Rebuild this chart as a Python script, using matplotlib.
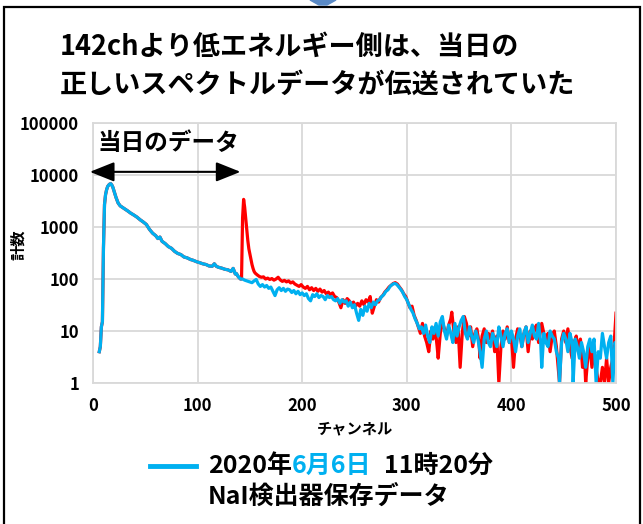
import matplotlib
matplotlib.use("Agg")
import matplotlib.pyplot as plt
from matplotlib.patches import Rectangle, Polygon
from matplotlib.lines import Line2D

plt.rcParams['font.family'] = ['Noto Sans CJK JP', 'DejaVu Sans']

# shared part below 142ch (red lies under the blue line here)
low_ch = [6, 7, 8, 9, 10, 11, 12, 13, 14, 15, 16, 17, 18, 19, 20, 21, 22, 24, 26, 28,
          30, 33, 36, 39, 42, 45, 48, 51, 54, 57, 60, 62, 64, 66, 69, 72, 75, 78, 81, 84,
          87, 90, 93, 96, 99, 102, 105, 108, 111, 114, 116, 118, 120, 123, 126, 129, 132, 134,
          136, 137, 139, 141, 142]
low_cnt = [4, 5, 12, 15, 400, 2700, 4200, 5200, 6000, 6400, 6700, 6800, 6400, 5800, 5000, 4300,
           3700, 2900, 2550, 2400, 2250, 2050, 1850, 1700, 1550, 1380, 1250, 1120, 900, 760,
           680, 600, 640, 530, 480, 420, 390, 340, 310, 295, 265, 255, 238, 228, 215, 206,
           196, 190, 178, 176, 196, 175, 168, 162, 154, 150, 140, 160, 125, 128, 110, 100, 100]

# blue: 2020/6/6 11:20 stored data
blue_ch = [143, 145, 147, 150, 152, 154, 156, 158, 160, 162, 164, 166, 168, 170, 172, 174,
           176, 178, 180, 182, 184, 186, 188, 190, 192, 194, 196, 198, 200, 202, 204, 206,
           208, 210, 212, 214, 216, 218, 220, 222, 224, 226, 228, 230, 232, 234, 236, 238,
           240, 242, 244, 246, 248, 250, 252, 254, 256, 258, 260, 262, 264, 266, 268, 270,
           272, 274, 276, 278, 280, 282, 284, 286, 288, 290, 292, 294, 296, 298, 300, 302,
           304, 306, 308, 310, 312, 314, 316, 318, 320, 322, 324, 326, 328, 330, 332, 334,
           336, 338, 340, 342, 344, 346, 348, 350, 352, 354, 356, 358, 360, 362, 364, 366,
           368, 370, 372, 374, 376, 378, 380, 382, 384, 386, 388, 390, 392, 394, 396, 398,
           400, 402, 404, 406, 408, 410, 412, 414, 416, 418, 420, 422, 424, 426, 428, 429,
           431, 433, 435, 437, 439, 441, 443, 445, 446, 448, 450, 452, 454, 456, 458, 459,
           461, 463, 465, 467, 469, 471, 473, 475, 477, 479, 481, 483, 485, 487, 489, 491,
           493, 495, 497, 499, 500]
blue_cnt = [100, 95, 92, 88, 85, 92, 98, 80, 72, 78, 70, 75, 66, 70, 58, 48,
            62, 68, 60, 66, 58, 64, 62, 55, 60, 52, 58, 50, 54, 48, 52, 42,
            38, 50, 46, 52, 44, 48, 46, 40, 48, 44, 46, 40, 38, 42, 34, 40,
            36, 38, 30, 36, 28, 32, 22, 16, 26, 20, 30, 24, 34, 28, 36, 32,
            38, 40, 46, 50, 58, 62, 72, 78, 82, 80, 72, 64, 56, 46, 40, 32,
            26, 22, 17, 14, 11, 12, 9, 13, 8, 6, 12, 9, 14, 8, 15, 19,
            10, 7, 13, 9, 6, 14, 8, 12, 16, 19, 9, 7, 12, 8, 6, 10,
            7, 4, 2, 7, 10, 6, 5, 9, 7, 5, 12, 8, 5, 9, 11, 6,
            10, 7, 4, 8, 11, 5, 9, 12, 6, 9, 13, 8, 7, 14, 6, 2,
            9, 6, 5, 10, 8, 7, 4, 3, 1, 6, 9, 7, 4, 9, 6, 1,
            7, 5, 3, 6, 4, 2, 5, 7, 4, 7, 1, 4, 3, 9, 5, 3,
            6, 8, 1, 6, 5]

# red: data transmitted on the day
red_ch = [143, 144, 145, 146, 147, 148, 149, 150, 151, 152, 153, 154, 155, 157, 159, 161,
          163, 165, 167, 169, 171, 173, 175, 177, 179, 181, 183, 185, 187, 189, 191, 193,
          195, 197, 199, 201, 203, 205, 207, 209, 211, 213, 215, 217, 219, 221, 223, 225,
          227, 229, 231, 233, 235, 237, 239, 241, 243, 245, 247, 249, 251, 253, 255, 257,
          259, 261, 263, 265, 267, 269, 271, 273, 275, 277, 279, 281, 283, 285, 287, 289,
          291, 293, 295, 297, 299, 301, 303, 305, 307, 309, 311, 313, 315, 317, 319, 321,
          323, 325, 327, 329, 330, 332, 334, 336, 338, 340, 342, 343, 345, 347, 349, 351,
          353, 355, 357, 359, 361, 363, 365, 367, 369, 370, 372, 374, 376, 378, 380, 382,
          384, 386, 388, 390, 392, 394, 396, 398, 400, 402, 404, 406, 408, 410, 412, 414,
          416, 418, 420, 422, 424, 426, 429, 431, 433, 435, 437, 439, 441, 443, 446, 448,
          450, 452, 454, 456, 458, 460, 462, 464, 466, 468, 470, 471, 473, 475, 477, 479,
          481, 483, 485, 487, 489, 491, 493, 495, 497, 498, 499, 500]
red_cnt = [1500, 3400, 2400, 1500, 900, 550, 380, 300, 240, 190, 160, 140, 130, 120, 112, 108,
           110, 100, 104, 98, 102, 95, 100, 108, 96, 90, 94, 88, 92, 84, 88, 80,
           76, 72, 78, 70, 66, 72, 62, 68, 60, 66, 58, 64, 56, 60, 52, 56,
           50, 54, 46, 44, 36, 28, 40, 34, 42, 38, 32, 36, 30, 34, 30, 38,
           32, 40, 36, 46, 22, 30, 40, 36, 44, 48, 56, 62, 70, 76, 82, 85,
           80, 70, 62, 52, 46, 36, 28, 30, 20, 16, 12, 9, 14, 8, 6, 4,
           10, 7, 12, 5, 3, 9, 15, 11, 8, 13, 17, 23, 10, 6, 12, 2,
           9, 19, 14, 8, 12, 5, 9, 11, 6, 3, 8, 11, 6, 9, 7, 10,
           4, 8, 1, 5, 10, 7, 12, 6, 8, 2, 7, 11, 9, 5, 9, 12,
           4, 10, 7, 11, 13, 6, 14, 9, 6, 9, 4, 8, 10, 5, 1, 7,
           10, 6, 11, 5, 3, 6, 8, 4, 7, 2, 3, 1, 3, 5, 2, 4,
           2, 1, 1, 2, 1, 3, 1, 2, 3, 5, 10, 22]

x_ticks = [0, 100, 200, 300, 400, 500]
y_ticks = [1, 10, 100, 1000, 10000, 100000]

W, H = 643, 524
BLUE = '#00B0F0'
RED = '#FF0000'
GRID = '#D9D9D9'


def fx(px):
    return px / W


def fy(py):
    return 1 - py / H


fig = plt.figure(figsize=(W / 100, H / 100), dpi=100)
ax = fig.add_axes([fx(93), fy(383), fx(616) - fx(93), fy(123) - fy(383)])

ax.plot(low_ch + red_ch, low_cnt + red_cnt, color=RED, lw=2.3, solid_joinstyle='round')
ax.plot(low_ch + blue_ch, low_cnt + blue_cnt, color=BLUE, lw=2.3, solid_joinstyle='round')

ax.set_yscale('log')
ax.set_xlim(0, 500)
ax.set_ylim(1, 100000)
ax.set_xticks(x_ticks)
ax.set_xticklabels([str(t) for t in x_ticks], fontweight='bold')
ax.set_yticks(y_ticks)
ax.set_yticklabels([str(t) for t in y_ticks], fontweight='bold')
ax.minorticks_off()
ax.tick_params(length=0, labelsize=12, pad=10)
ax.grid(True, color=GRID, lw=1.3)
ax.set_axisbelow(True)
for s in ax.spines.values():
    s.set_color(GRID)
    s.set_linewidth(1.3)

ax.set_xlabel('チャンネル', fontsize=11, fontweight='bold', labelpad=4)
fig.text(fx(18), fy(245), '計数', rotation=90, fontsize=11, fontweight='bold',
         ha='center', va='center')

# arrow and label for the day's data
ax.annotate('', xy=(141, 11500), xytext=(-3, 11500),
            arrowprops=dict(arrowstyle='<|-|>,head_length=0.75,head_width=0.3',
                            mutation_scale=20, color='black', lw=1.5,
                            shrinkA=0, shrinkB=0),
            annotation_clip=False)
ax.text(4, 41000, '当日のデータ', fontsize=17, fontweight='bold', va='center', ha='left')

# title
fig.text(fx(60), fy(47), '142chより低エネルギー側は、当日の', fontsize=19.5,
         fontweight='bold', va='center', ha='left')
fig.text(fx(60), fy(85), '正しいスペクトルデータが伝送されていた', fontsize=19.5,
         fontweight='bold', va='center', ha='left')

# legend drawn by hand
fig.add_artist(Line2D([fx(150), fx(196)], [fy(466), fy(466)], color=BLUE, lw=3.5,
                      transform=fig.transFigure))
fig.canvas.draw()
rend = fig.canvas.get_renderer()
x0 = fx(208)
for part, col, gap in [('2020年', 'black', 0), ('6月6日', BLUE, 12), ('11時20分', 'black', 0)]:
    t = fig.text(x0, fy(466), part, fontsize=18, fontweight='bold', color=col,
                 va='center', ha='left')
    bb = t.get_window_extent(renderer=rend)
    x0 += (bb.width + gap) / W
fig.text(fx(208), fy(497), 'NaI検出器保存データ', fontsize=18, fontweight='bold',
         va='center', ha='left')

# outer frame and the small arrow at the top
fig.add_artist(Rectangle((fx(4), -0.1), fx(640) - fx(4), fy(7) + 0.1, fill=False,
                         edgecolor='black', lw=1.6, transform=fig.transFigure))
fig.add_artist(Polygon([(fx(310), fy(0)), (fx(336), fy(0)), (fx(327), fy(5)), (fx(319), fy(5))],
                       closed=True, color='#5A8AC6', transform=fig.transFigure))

fig.savefig('out.png', dpi=100)
